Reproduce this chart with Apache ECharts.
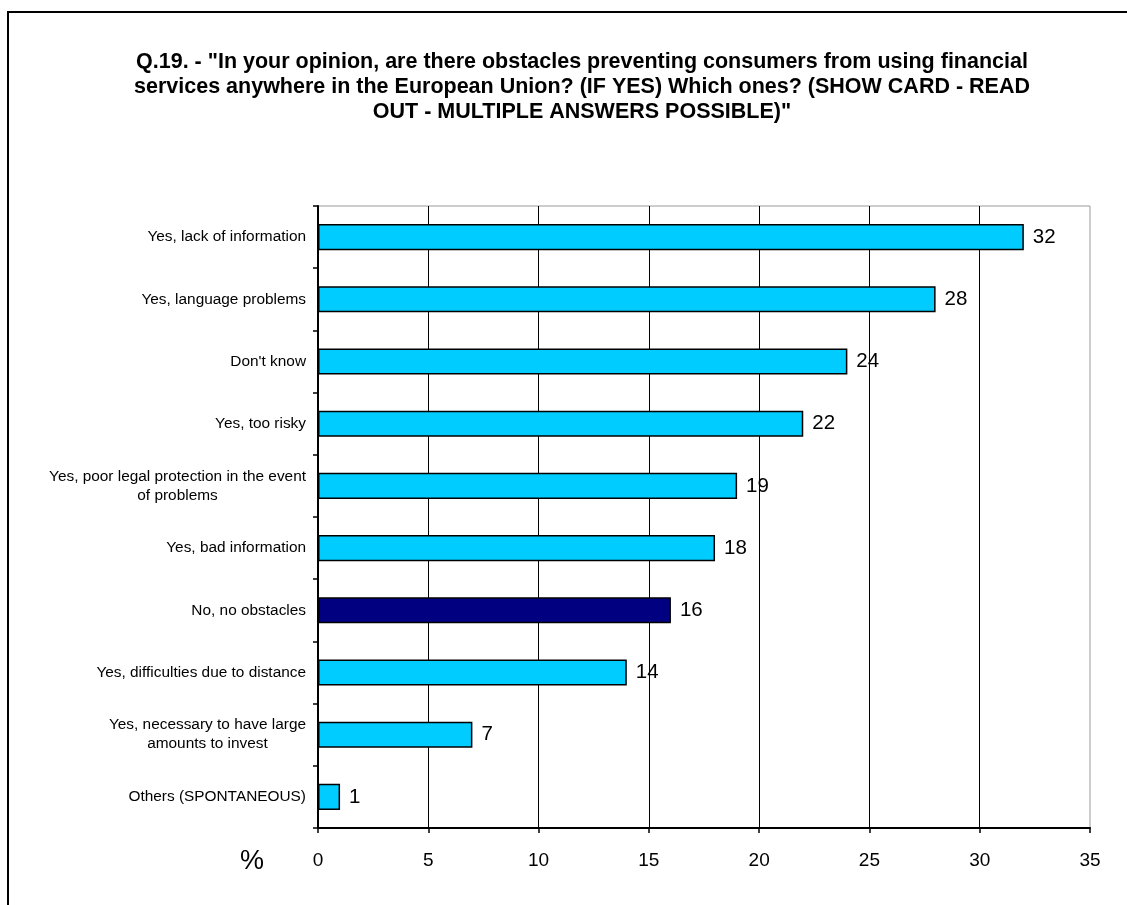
<!DOCTYPE html>
<html>
<head>
<meta charset="utf-8">
<script src="https://cdn.jsdelivr.net/npm/echarts@6/dist/echarts.min.js"></script>
<style>
  html, body { margin: 0; padding: 0; background: #fff; }
  #chart { width: 1127px; height: 905px; }
</style>
</head>
<body>
<div id="chart"></div>
<script>
// Answer categories, top to bottom
const categories = [
  'Yes, lack of information',
  'Yes, language problems',
  "Don't know",
  'Yes, too risky',
  'Yes, poor legal protection in the event\nof problems',
  'Yes, bad information',
  'No, no obstacles',
  'Yes, difficulties due to distance',
  'Yes, necessary to have large\namounts to invest',
  'Others (SPONTANEOUS)'
];
// Share of respondents (%)
const values = [32, 28, 24, 22, 19, 18, 16, 14, 7, 1];
// The "no obstacles" answer is drawn in a darker colour
const highlighted = ['No, no obstacles'];

const xTicks = { min: 0, max: 35, interval: 5 };

const titleText = 'Q.19. - "In your opinion, are there obstacles preventing consumers from using financial\n' +
  'services anywhere in the European Union? (IF YES) Which ones? (SHOW CARD - READ\n' +
  'OUT - MULTIPLE ANSWERS POSSIBLE)"';

const FONT = '"Liberation Sans", Arial, Helvetica, sans-serif';

const chart = echarts.init(document.getElementById('chart'), null, { renderer: 'canvas' });

const barData = categories.map((c, i) => ({
  value: values[i],
  itemStyle: { color: highlighted.includes(c) ? '#000080' : '#00CCFF' }
}));

chart.setOption({
  backgroundColor: '#ffffff',
  animation: false,
  grid: {
    left: 318, right: 37, top: 206, bottom: 77,
    show: true, borderColor: '#9a9a9a', borderWidth: 1, backgroundColor: 'transparent'
  },
  xAxis: {
    type: 'value',
    min: xTicks.min, max: xTicks.max, interval: xTicks.interval,
    axisLine: { show: true, onZero: false, lineStyle: { color: '#000', width: 2 } },
    axisTick: { show: true, length: 5, inside: false, lineStyle: { color: '#000', width: 1.5 } },
    axisLabel: { color: '#000', fontSize: 19, fontFamily: FONT, margin: 23 },
    splitLine: { show: true, showMinLine: false, showMaxLine: false, lineStyle: { color: '#000', width: 1 } }
  },
  yAxis: {
    type: 'category',
    inverse: true,
    data: categories,
    axisLine: { show: true, lineStyle: { color: '#000', width: 2 } },
    axisTick: { show: true, length: 5, lineStyle: { color: '#000', width: 1.5 } },
    axisLabel: {
      color: '#000', fontSize: 15.4, fontFamily: FONT, margin: 12, lineHeight: 19,
      formatter: function (v) {
        return v.split('\n').map(l => '{c|' + l + '}').join('\n');
      },
      rich: { c: { align: 'center', fontSize: 15.4, fontFamily: FONT, color: '#000', lineHeight: 19 } }
    },
    splitLine: { show: false }
  },
  series: [{
    type: 'bar',
    data: barData,
    barCategoryGap: '58%',
    itemStyle: { borderColor: '#000', borderWidth: 1.5 },
    label: {
      show: true, position: 'right', distance: 9,
      color: '#000', fontSize: 20.5, fontFamily: FONT
    }
  }],
  graphic: [
    {
      type: 'rect', silent: true,
      shape: { x: 8, y: 12, width: 1140, height: 920 },
      style: { fill: 'none', stroke: '#000', lineWidth: 2 }
    },
    {
      type: 'text', silent: true,
      style: {
        text: titleText, x: 582, y: 49.5,
        fill: '#000', fontFamily: FONT, fontSize: 21.5, fontWeight: 'bold',
        lineHeight: 25, textAlign: 'center', textVerticalAlign: 'top'
      }
    },
    {
      type: 'text', silent: true,
      style: {
        text: '%', x: 240, y: 862, fill: '#000', fontFamily: FONT, fontSize: 27,
        textAlign: 'left', textVerticalAlign: 'middle'
      }
    }
  ]
});
</script>
</body>
</html>
